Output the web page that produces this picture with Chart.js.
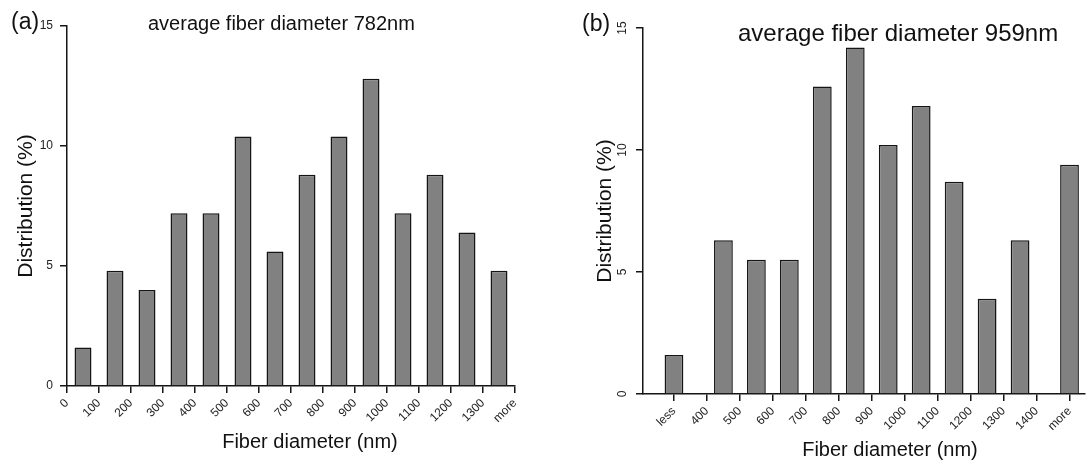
<!DOCTYPE html>
<html>
<head>
<meta charset="utf-8">
<script src="https://cdn.jsdelivr.net/npm/chart.js@4.4.0/dist/chart.umd.min.js"></script>
<style>
  html, body { margin: 0; padding: 0; background: #fff; }
  body { width: 1088px; height: 462px; position: relative; overflow: hidden;
         font-family: "Liberation Sans", Arial, sans-serif; color: #111; }
  .box { position: absolute; top: 0; height: 462px; }
  #boxA { left: 0; width: 560px; }
  #boxB { left: 560px; width: 528px; }
  .lbl { position: absolute; white-space: nowrap; }
  .xt { width: 300px; text-align: center; font-size: 20px; line-height: 24px; }
</style>
</head>
<body>
<div class="box" id="boxA"><canvas id="chartA"></canvas></div>
<div class="box" id="boxB"><canvas id="chartB"></canvas></div>

<div class="lbl" style="left:11px;top:7px;font-size:23px;line-height:28px">(a)</div>
<div class="lbl" style="left:148px;top:11px;font-size:20px;line-height:24px">average fiber diameter 782nm</div>
<div class="lbl xt" style="left:160px;top:429px">Fiber diameter (nm)</div>

<div class="lbl" style="left:582px;top:9px;font-size:23px;line-height:28px">(b)</div>
<div class="lbl" style="left:738px;top:19px;font-size:24px;line-height:28px">average fiber diameter 959nm</div>
<div class="lbl xt" style="left:740px;top:437px">Fiber diameter (nm)</div>

<script>
// panel (a)
var labelsA = ['0', '100', '200', '300', '400', '500', '600', '700', '800', '900', '1000', '1100', '1200', '1300', 'more'];
var posA = [0.5, 1.5, 2.5, 3.5, 4.5, 5.5, 6.5, 7.5, 8.5, 9.5, 10.5, 11.5, 12.5, 13.5];
var valuesA = [1.6, 4.8, 4.0, 7.2, 7.2, 10.4, 5.6, 8.8, 10.4, 12.8, 7.2, 8.8, 6.4, 4.8];

// panel (b)
var labelsB = ['less', '400', '500', '600', '700', '800', '900', '1000', '1100', '1200', '1300', '1400', 'more'];
var posB = [0, 1.5, 2.5, 3.5, 4.5, 5.5, 6.5, 7.5, 8.5, 9.5, 10.5, 12];
var valuesB = [1.6, 6.3, 5.5, 5.5, 12.6, 14.2, 10.2, 11.8, 8.7, 3.9, 6.3, 9.4];

var yTicks = [0, 5, 10, 15];

Chart.defaults.font.family = "'Liberation Sans', Arial, sans-serif";
Chart.defaults.color = '#222';

function makeChart(id, labels, pos, values, opt) {
    var ctx = document.getElementById(id).getContext('2d');
    return new Chart(ctx, {
        type: 'bar',
        data: {
            datasets: [{
                data: pos.map(function(p, i) { return {x: p, y: values[i]}; }),
                backgroundColor: '#818181',
                borderColor: '#151515',
                borderWidth: 1.5,
                barPercentage: opt.barPct,
                categoryPercentage: 1
            }]
        },
        options: {
            responsive: true,
            maintainAspectRatio: false,
            animation: false,
            events: [],
            layout: { padding: opt.padding },
            plugins: {
                legend: { display: false },
                tooltip: { enabled: false }
            },
            scales: {
                x: {
                    type: 'linear',
                    min: opt.xMin,
                    max: opt.xMax,
                    offset: false,
                    afterBuildTicks: function(axis) {
                        axis.ticks = labels.map(function(l, i) { return {value: i}; });
                    },
                    afterFit: function(s) { s.height = opt.xHeight; },
                    grid: { display: true, offset: false, drawOnChartArea: false, drawTicks: true,
                            tickLength: 7, color: '#151515', lineWidth: 1.5 },
                    border: { display: true, color: '#151515', width: 1.5 },
                    ticks: {
                        autoSkip: false,
                        minRotation: 45,
                        maxRotation: 45,
                        padding: 3,
                        font: { size: 12 },
                        callback: function(v, i) { return labels[i]; }
                    }
                },
                y: {
                    min: 0,
                    max: 15,
                    afterBuildTicks: function(axis) {
                        axis.ticks = yTicks.map(function(v) { return {value: v}; });
                    },
                    afterFit: function(s) { s.width = opt.yWidth; },
                    grid: { display: true, drawOnChartArea: false, drawTicks: true,
                            tickLength: 7, color: '#151515', lineWidth: 1.5 },
                    border: { display: true, color: '#151515', width: 1.5 },
                    ticks: {
                        padding: 7,
                        font: { size: 12 },
                        minRotation: opt.yRot,
                        maxRotation: opt.yRot,
                        crossAlign: opt.yRot ? 'center' : 'near'
                    },
                    title: {
                        display: true,
                        text: 'Distribution (%)',
                        color: '#111',
                        font: { size: 21 },
                        padding: { top: opt.yTitlePad, bottom: 0 }
                    }
                }
            }
        }
    });
}

makeChart('chartA', labelsA, posA, valuesA, {
    barPct: 0.53, xMin: 0, xMax: 14, xHeight: 76, yWidth: 67, yRot: 0, yTitlePad: 14,
    padding: { top: 26, right: 45, left: 0, bottom: 0 }
});
makeChart('chartB', labelsB, posB, valuesB, {
    barPct: 0.57, xMin: -0.94, xMax: 12.47, xHeight: 68, yWidth: 83, yRot: 90, yTitlePad: 33,
    padding: { top: 28, right: 3, left: 0, bottom: 0 }
});
</script>
</body>
</html>
